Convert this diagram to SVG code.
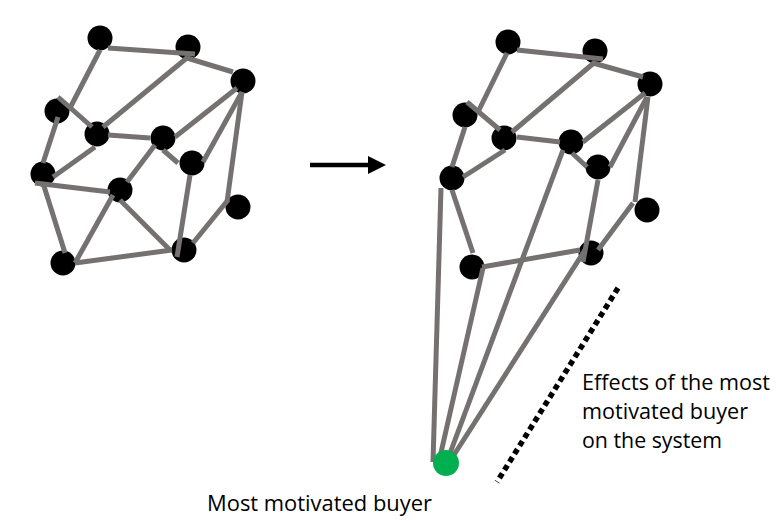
<svg xmlns="http://www.w3.org/2000/svg" width="777" height="521" viewBox="0 0 777 521">
<style>
.n{fill:#000}
.g{fill:#00B050}
.e{stroke:#767171;stroke-width:5;fill:none}
.t{font-family:"Open Sans","Noto Sans","Liberation Sans",sans-serif;font-size:22px;fill:#000}
</style>
<rect width="777" height="521" fill="#fff"/>
<g id="left-nodes">
<g id="LA"><circle class="n" cx="100" cy="38" r="12.5"/></g>
<g id="LB"><circle class="n" cx="188" cy="47" r="12.5"/></g>
<g id="LC"><circle class="n" cx="243" cy="81" r="12.5"/></g>
<g id="LD"><circle class="n" cx="57" cy="111" r="12.5"/></g>
<g id="LE"><circle class="n" cx="97" cy="134" r="12.5"/></g>
<g id="LF"><circle class="n" cx="163" cy="138" r="12.5"/></g>
<g id="LG"><circle class="n" cx="192" cy="163" r="12.5"/></g>
<g id="LH"><circle class="n" cx="43" cy="174" r="12.5"/></g>
<g id="LI"><circle class="n" cx="120" cy="190" r="12.5"/></g>
<g id="LJ"><circle class="n" cx="238" cy="207" r="12.5"/></g>
<g id="LK"><circle class="n" cx="184" cy="250" r="12.5"/></g>
<g id="LL"><circle class="n" cx="63" cy="263" r="12.5"/></g>
</g>
<g id="right-nodes">
<g id="RA"><circle class="n" cx="508" cy="42" r="12.5"/></g>
<g id="RB"><circle class="n" cx="595" cy="51" r="12.5"/></g>
<g id="RC"><circle class="n" cx="650" cy="84" r="12.5"/></g>
<g id="RD"><circle class="n" cx="465" cy="115" r="12.5"/></g>
<g id="RE"><circle class="n" cx="504" cy="138" r="12.5"/></g>
<g id="RF"><circle class="n" cx="571" cy="142" r="12.5"/></g>
<g id="RG"><circle class="n" cx="598" cy="167" r="12.5"/></g>
<g id="RH"><circle class="n" cx="452" cy="178" r="12.5"/></g>
<g id="RJ"><circle class="n" cx="647" cy="210" r="12.5"/></g>
<g id="RK"><circle class="n" cx="591" cy="253" r="12.5"/></g>
<g id="RL"><circle class="n" cx="472" cy="267" r="12.5"/></g>
</g>
<g id="connectors">
<path class="e" d="M100,50L70,108"/>
<path class="e" d="M58,97L92,127"/>
<path class="e" d="M108,48L195,54"/>
<path class="e" d="M187,58L233,72"/>
<path class="e" d="M188,57L103,127"/>
<path class="e" d="M108,135L150,138"/>
<path class="e" d="M237,88L175,137"/>
<path class="e" d="M242,92L203,162"/>
<path class="e" d="M242,92L227,202"/>
<path class="e" d="M163,150L178,163"/>
<path class="e" d="M58,117L43,163"/>
<path class="e" d="M53,177L95,147"/>
<path class="e" d="M35,183L110,192"/>
<path class="e" d="M127,182L155,145"/>
<path class="e" d="M43,183L65,253"/>
<path class="e" d="M75,263L113,195"/>
<path class="e" d="M120,200L170,250"/>
<path class="e" d="M75,263L172,250"/>
<path class="e" d="M190,175L177,257"/>
<path class="e" d="M193,243L228,200"/>

<path class="e" d="M507,53L478,112"/>
<path class="e" d="M467,102L500,130"/>
<path class="e" d="M517,50L603,59"/>
<path class="e" d="M593,63L643,77"/>
<path class="e" d="M595,62L512,132"/>
<path class="e" d="M517,137L560,142"/>
<path class="e" d="M645,93L583,142"/>
<path class="e" d="M647,97L610,167"/>
<path class="e" d="M648,97L635,202"/>
<path class="e" d="M572,153L587,167"/>
<path class="e" d="M465,127L452,167"/>
<path class="e" d="M463,177L505,150"/>
<path class="e" d="M452,190L473,253"/>
<path class="e" d="M482,267L580,250"/>
<path class="e" d="M598,180L583,262"/>
<path class="e" d="M598,250L633,203"/>
<path class="e" d="M441,188L433,462"/>
<path class="e" d="M483,268L440,457"/>
<path class="e" d="M563,150L449,456"/>
<path class="e" d="M585,250L452,458"/>

<path d="M310,165H369" stroke="#000" stroke-width="4.5"/>
<polygon points="368,156 386,165 368,174" fill="#000"/>
<path d="M618,288L497,482" stroke="#000" stroke-width="5.5" stroke-dasharray="5.5 4"/>
</g>
<g id="buyer"><circle class="g" cx="446" cy="463" r="13"/></g>
<g id="labels">
<text class="t" x="207" y="511" textLength="225" lengthAdjust="spacingAndGlyphs">Most motivated buyer</text>
<text class="t" x="582" y="390" textLength="188" lengthAdjust="spacingAndGlyphs">Effects of the most</text>
<text class="t" x="582" y="419" textLength="166" lengthAdjust="spacingAndGlyphs">motivated buyer</text>
<text class="t" x="582" y="448" textLength="140" lengthAdjust="spacingAndGlyphs">on the system</text>
</g>
</svg>
